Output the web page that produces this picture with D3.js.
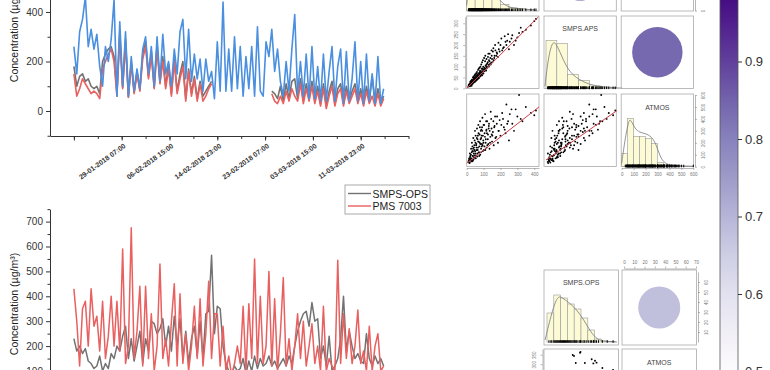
<!DOCTYPE html>
<html>
<head>
<meta charset="utf-8">
<script src="https://cdn.jsdelivr.net/npm/d3@7"></script>
<style>
  body { margin: 0; background: #fff; }
  svg { display: block; font-family: "Liberation Sans", Arial, sans-serif; }
</style>
</head>
<body>
<svg id="chart" width="770" height="370"></svg>
<script>
// ---- time series data (12 h steps from the first sample) ----
const seriesStart = '20-01-2018 23:00';
const stepHours = 12;
const xTickLabels = ['29-01-2018 07:00', '06-02-2018 15:00', '14-02-2018 23:00',
  '23-02-2018 07:00', '03-03-2018 15:00', '11-03-2018 23:00'];

const topAps = [260,150,320,370,460,260,330,250,310,180,
  100,260,200,290,450,60,360,100,320,60,
  220,80,170,90,250,300,150,260,100,300,
  120,310,150,200,100,250,150,320,370,130,
  330,120,230,130,210,80,210,120,160,50,
  280,80,440,80,250,80,300,90,260,60,
  220,90,260,60,340,80,60,280,220,330,
  160,250,120,60,200,80,250,390,70,200,
  60,230,50,260,50,180,40,230,40,160,
  260,40,180,250,30,240,40,130,280,40,
  200,30,230,40,150,30,220,30,90];
const topPms = [150,60,90,130,110,90,70,80,70,50,
  170,200,230,250,200,60,300,90,270,55,
  190,70,150,80,210,260,130,220,90,250,
  110,200,90,170,60,200,70,130,180,40,
  160,60,130,40,110,40,60,90,110,null,
  null,null,null,null,null,null,null,null,null,null,
  null,null,null,null,null,null,null,null,null,70,
  40,30,60,30,80,40,90,60,40,110,
  30,90,40,100,30,80,20,90,10,60,
  100,20,70,90,20,80,30,60,90,30,
  70,20,80,30,60,20,70,20,50];
const topOps = [180,100,140,150,120,130,100,90,100,70,
  200,230,250,260,220,70,320,95,290,58,
  200,75,160,85,230,280,140,240,95,270,
  115,220,100,190,70,210,80,150,200,50,
  170,70,140,50,120,60,80,100,120,null,
  null,null,null,null,null,null,null,null,null,null,
  null,null,null,null,null,null,null,null,null,80,
  70,50,100,40,110,50,120,130,50,130,
  40,110,50,120,40,100,30,110,20,80,
  120,30,90,110,30,100,40,80,110,40,
  90,30,100,40,140,30,90,30,60];

const bottomPms = [430,300,120,350,380,200,430,280,320,180,
  380,150,240,400,200,380,180,590,130,200,
  675,150,260,440,120,440,150,330,100,200,
  530,150,230,120,300,450,120,410,130,250,
  100,200,360,150,390,120,250,460,150,330,
  330,120,280,100,160,80,130,200,130,360,
  100,370,150,550,130,400,130,200,500,120,
  390,100,250,475,120,230,100,200,330,150,
  300,120,200,290,130,200,100,360,100,150,
  120,100,545,130,330,150,270,130,200,345,
  130,180,100,280,100,200,250,100,120];
const bottomOps = [230,180,200,170,190,140,130,110,120,160,
  100,130,110,170,150,200,180,240,280,150,
  230,140,200,260,130,230,180,300,290,250,
  270,310,200,280,180,320,200,310,150,260,
  130,230,280,160,300,150,330,340,565,250,
  360,350,200,130,100,90,120,100,110,150,
  90,140,100,160,110,150,120,130,160,120,
  140,110,130,150,120,160,130,200,260,300,
  330,340,280,375,300,310,150,200,120,240,
  100,120,150,230,400,180,260,200,150,170,
  140,130,250,150,120,160,130,150,120];

const legendLabels = ['SMPS-OPS', 'PMS 7003'];

// ---- scatter matrix samples (top matrix) ----
const pmsSample = [10,15,18,20,22,25,28,30,32,35,38,40,42,45,48,50,52,55,58,60,
  62,65,68,70,72,75,78,80,82,85,88,90,92,95,98,100,105,108,110,112,
  115,118,120,125,128,130,135,140,145,150,155,160,165,170,180,185,190,200,210,220,
  230,240,250,265,280,300,310,330,350,380,400,410,
  12,16,24,27,33,36,44,46,54,57,63,66,74,77,84,87,94,102,116,122,132,138,148,175,
  14,19,21,26,29,31,34,37,39,41,43,47,49,51,53,56,59,61,64,67,
  69,71,73,76,79,81,83,86,89,91,93,96,99,103,106,109,113,117,121,126,
  131,136,142,147,152,158,163,168,178,188,195,205,215,225,235,245,255,270,290,320];
const apsSample = [8,12,20,15,25,18,30,22,35,28,40,30,45,38,50,42,55,35,60,48,
  52,65,45,58,70,62,80,55,75,68,90,72,60,85,100,78,95,88,150,105,
  82,110,98,120,160,108,125,140,118,135,170,130,150,175,160,145,180,200,175,190,
  215,220,180,230,200,235,255,260,270,290,310,320,
  14,10,22,15,26,32,36,48,44,50,58,52,66,72,80,64,92,88,100,115,130,112,150,150,
  18,9,30,35,12,40,20,50,25,55,28,60,30,65,40,70,38,75,42,85,
  50,90,48,95,60,100,58,110,70,120,75,130,68,140,80,125,90,135,95,145,
  100,160,110,175,120,185,140,200,165,210,170,230,185,240,200,250,215,245,220,280];
const atmosSample = [40,60,35,80,55,100,70,120,45,90,150,60,110,180,75,130,200,95,160,240,
  85,140,210,280,120,170,330,100,230,150,260,190,300,130,220,350,170,250,140,200,
  380,160,280,230,190,320,150,250,400,210,290,180,340,240,420,200,300,260,450,330,
  280,360,220,480,300,420,600,380,500,450,430,470,
  50,30,65,45,130,50,95,140,70,190,110,260,90,200,120,310,180,140,300,180,360,200,270,250,
  70,110,90,150,60,200,170,130,240,80,160,220,300,110,260,180,140,320,230,160,
  350,210,120,270,380,190,300,240,170,330,410,260,200,350,280,440,230,310,380,270,
  340,300,460,320,260,380,330,420,360,300,390,350,400,310,520,380,440,360,480,400];

// histogram bins (edges + heights) and density curves
const pmsHistEdges = [0,50,100,150,200,250,300,350,400];
const pmsHistHeights = [40,46,35,22,6,2.5,1.5,0.8];
const pmsDensX = [0,20,60,100,150,200,250,300,400];
const pmsDensY = [5,35,46,38,22,8,3,1.5,0.5];

const apsHistEdges = [0,50,100,150,200,250,300,350];
const apsHistHeights = [48,45,14,8,2.3,1,0.5];
const apsDensX = [-5,10,30,50,80,110,150,200,260,330];
const apsDensY = [2,30,48,44,28,16,9,3.5,1.5,0.5];

const atmosHistEdges = [0,50,100,150,200,250,300,350,400,450,500,550,600];
const atmosHistHeights = [13,48,30,30,28,23,4,1.5,0.8,0.5,0.3,0.3];
const atmosDensX = [0,25,60,80,110,150,200,250,290,320,360,420,500,600];
const atmosDensY = [3,25,48,46,38,34,33,30,22,10,3,1,0.5,0.2];

const fitPmsAps = [[0, 0], [425, 330]];
const fitPmsAtmos = [[0, 29], [428, 500]];
const fitApsAtmos = [[0, 56], [328, 470]];

const corrTop = [0.86, 0.75, 0.84]; // r(1,2), r(1,3), r(2,3)
const corrBottom = [0.68];

// ---- bottom matrix samples ----
const opsSampleB = [26.5,34,29.6,39,46,49.4,51,47.7,27.8,34.5,2,4,5,7,8,9,10,11,12,13,
  14,15,16,17,18,19,20,21,22,23,24,25,28,30,31,33,36,38,41,43,45,48,53,57,62,68];
const atmosSampleB = [348,360,306,306,326,318,308,304,343,364,40,60,50,80,70,90,100,85,110,95,
  120,130,105,140,150,125,160,145,170,155,180,190,200,175,210,220,230,215,240,225,250,260,240,280,230,270];
const opsHistEdges = [0,7,14,21,28,35,42,49,56,63,70];
const opsHistHeights = [29,47,44,38,33,24,12,3,1,0.5];
const opsDensX = [-2,5,11,16,22,30,38,45,52,60,72];
const opsDensY = [2,30,47,44,40,33,22,10,2,0.6,0];

const colorbarTicks = [0.5, 0.6, 0.7, 0.8, 0.9, 1.0];

// ================= drawing =================
const svg = d3.select('#chart');
const defs = svg.append('defs');
const parseTime = d3.timeParse('%d-%m-%Y %H:%M');
const t0 = parseTime(seriesStart);
const times = topAps.map((_, i) => d3.timeHour.offset(t0, i * stepHours));

const x = d3.scaleTime()
  .domain([d3.timeHour.offset(t0, -100), d3.timeHour.offset(t0, 1400)])
  .range([50, 408.5]);
const yTop = d3.scaleLinear().domain([-100, 500]).range([135.75, -12.75]);
const yBot = d3.scaleLinear().domain([0, 750]).range([395.9, 209.15]);

const colors = { aps: '#4a8fe0', pms: '#e8605f', ops: '#727272' };

defs.append('clipPath').attr('id', 'clipTop')
  .append('rect').attr('x', 50).attr('y', -30).attr('width', 360).attr('height', 166);
defs.append('clipPath').attr('id', 'clipBot')
  .append('rect').attr('x', 50).attr('y', 200).attr('width', 360).attr('height', 200);

function seriesLine(yScale) {
  return d3.line()
    .defined(d => d.v != null)
    .x(d => x(d.t))
    .y(d => yScale(d.v));
}
function toPoints(arr) { return arr.map((v, i) => ({ t: times[i], v })); }

// ---- top time series ----
const gTop = svg.append('g');
const topLines = gTop.append('g').attr('clip-path', 'url(#clipTop)');
[[topOps, colors.ops], [topPms, colors.pms], [topAps, colors.aps]].forEach(([arr, c]) => {
  topLines.append('path')
    .attr('d', seriesLine(yTop)(toPoints(arr)))
    .attr('fill', 'none').attr('stroke', c).attr('stroke-width', 1.6)
    .attr('stroke-linejoin', 'round');
});

function styleAxis(g) {
  g.selectAll('path, line').attr('stroke', '#333');
  g.selectAll('text').attr('fill', '#333').attr('font-size', 10);
}

gTop.append('g').attr('transform', 'translate(50,0)')
  .call(d3.axisLeft(yTop).tickValues([0, 200, 400]).tickSize(4).tickSizeOuter(0).tickPadding(3))
  .call(styleAxis);
gTop.append('g').attr('transform', 'translate(50,0)')
  .call(d3.axisLeft(yTop).tickValues([-100, 100, 300]).tickSize(2.5).tickFormat(''))
  .call(g => g.select('.domain').remove()).call(styleAxis);

const minorTimes = d3.range(0, 15).map(k => d3.timeHour.offset(t0, k * 100));
const majorTimes = [t0, ...xTickLabels.map(parseTime)];
gTop.append('g').attr('transform', 'translate(0,136)')
  .call(d3.axisBottom(x).tickValues(minorTimes).tickSize(3).tickSizeOuter(0).tickFormat(''))
  .call(styleAxis);
gTop.append('g').attr('transform', 'translate(0,136)')
  .call(d3.axisBottom(x).tickValues(majorTimes).tickSize(4.5).tickFormat(''))
  .call(g => g.select('.domain').remove()).call(styleAxis);
gTop.selectAll('text.xlab').data(xTickLabels).join('text')
  .attr('class', 'xlab')
  .attr('transform', d => `translate(${x(parseTime(d)) + 4.5},${147}) rotate(-36)`)
  .attr('text-anchor', 'end')
  .attr('font-size', 7).attr('font-weight', 'bold').attr('fill', '#333')
  .text(d => d);

gTop.append('text')
  .attr('transform', 'translate(18,31) rotate(-90)')
  .attr('text-anchor', 'middle').attr('font-size', 10.5).attr('fill', '#222')
  .text('Concentration (µg/m³)');

// ---- bottom time series ----
const gBot = svg.append('g');
const botLines = gBot.append('g').attr('clip-path', 'url(#clipBot)');
[[bottomOps, colors.ops], [bottomPms, colors.pms]].forEach(([arr, c]) => {
  botLines.append('path')
    .attr('d', seriesLine(yBot)(toPoints(arr)))
    .attr('fill', 'none').attr('stroke', c).attr('stroke-width', 1.5)
    .attr('stroke-linejoin', 'round');
});
gBot.append('g').attr('transform', 'translate(50,0)')
  .call(d3.axisLeft(yBot).tickValues([100, 200, 300, 400, 500, 600, 700]).tickSize(4).tickSizeOuter(0).tickPadding(3))
  .call(styleAxis);
gBot.append('g').attr('transform', 'translate(50,0)')
  .call(d3.axisLeft(yBot).tickValues([150, 250, 350, 450, 550, 650, 750]).tickSize(2.5).tickFormat(''))
  .call(g => g.select('.domain').remove()).call(styleAxis);
gBot.append('text')
  .attr('transform', 'translate(18,304) rotate(-90)')
  .attr('text-anchor', 'middle').attr('font-size', 10.5).attr('fill', '#222')
  .text('Concentration (µg/m³)');

// legend
const leg = svg.append('g').attr('transform', 'translate(345,185)');
leg.append('rect').attr('width', 85).attr('height', 29).attr('fill', '#fff').attr('stroke', '#aaa');
legendLabels.forEach((lab, i) => {
  const c = i === 0 ? colors.ops : colors.pms;
  leg.append('line').attr('x1', 3).attr('x2', 26).attr('y1', 8.5 + i * 12.5).attr('y2', 8.5 + i * 12.5)
    .attr('stroke', c).attr('stroke-width', 1.4);
  leg.append('text').attr('x', 27.5).attr('y', 12.5 + i * 12.5).attr('font-size', 10.5).attr('fill', '#222').text(lab);
});

// ================= scatter matrices =================
const purples = v => d3.interpolatePurples((v - 0.5) / 0.5);

function panel(g, x0, y0, w, h) {
  g.append('rect').attr('x', x0).attr('y', y0).attr('width', w).attr('height', h)
    .attr('fill', '#fff').attr('stroke', '#aaa').attr('stroke-width', 0.8);
}
function scatter(g, xs, ys, sx, sy) {
  g.append('g').selectAll('circle').data(d3.range(xs.length)).join('circle')
    .attr('cx', i => sx(xs[i])).attr('cy', i => sy(ys[i])).attr('r', 0.95).attr('fill', '#000');
}
function fitLine(g, pts, sx, sy) {
  g.append('line').attr('x1', sx(pts[0][0])).attr('y1', sy(pts[0][1]))
    .attr('x2', sx(pts[1][0])).attr('y2', sy(pts[1][1]))
    .attr('stroke', '#d0404a').attr('stroke-width', 1);
}
function hist(g, edges, heights, densX, densY, rug, sx, base) {
  const hy = d3.scaleLinear().domain([0, 1]).range([base, base - 1]);
  g.append('g').selectAll('rect').data(heights).join('rect')
    .attr('x', (d, i) => sx(edges[i])).attr('width', (d, i) => sx(edges[i + 1]) - sx(edges[i]))
    .attr('y', d => hy(d)).attr('height', d => base - hy(d))
    .attr('fill', '#fdfbd6').attr('stroke', '#999').attr('stroke-width', 0.6);
  g.append('path')
    .attr('d', d3.line().curve(d3.curveBasis).x((d, i) => sx(densX[i])).y(d => hy(d))(densY))
    .attr('fill', 'none').attr('stroke', '#777').attr('stroke-width', 0.8);
  g.append('g').selectAll('line').data(rug).join('line')
    .attr('x1', d => sx(d)).attr('x2', d => sx(d)).attr('y1', base - 1.8).attr('y2', base + 0.8)
    .attr('stroke', '#000').attr('stroke-width', 1);
}
function corrCircle(g, cx, cy, r, half) {
  g.append('circle').attr('cx', cx).attr('cy', cy).attr('r', r * half * 0.83).attr('fill', purples(r));
}
function tinyAxis(g, axis, tx, ty, rotate) {
  const a = g.append('g').attr('transform', `translate(${tx},${ty})`).call(axis);
  a.selectAll('path, line').attr('stroke', '#888').attr('stroke-width', 0.6);
  a.selectAll('text').attr('font-size', 4.5).attr('fill', '#777');
  if (rotate) a.selectAll('text').attr('text-anchor', 'middle')
    .attr('dy', rotate === 'left' ? -2 : 5).attr('x', 0).attr('y', 0)
    .attr('transform', () => `translate(${rotate === 'left' ? -5 : 5},0) rotate(-90)`);
}

// top matrix geometry
const mx = [466.7, 544, 621.2], my = [-61.5, 16, 94], pw = 72.3, ph = 72.5;
const pmsX = d3.scaleLinear().domain([0, 428]).range([466.7, 539]);
const apsX = d3.scaleLinear().domain([0, 328]).range([546, 617]);
const atmosX = d3.scaleLinear().domain([0, 600]).range([621.7, 693.3]);
const pmsY = d3.scaleLinear().domain([0, 428]).range([10.5, -61.5]);
const apsY = d3.scaleLinear().domain([0, 330]).range([88.3, 16.8]);
const atmosY = d3.scaleLinear().domain([0, 600]).range([166.7, 95]);

const gM = svg.append('g');
mx.forEach(x0 => my.forEach(y0 => panel(gM, x0, y0, pw, ph)));
hist(gM, pmsHistEdges, pmsHistHeights, pmsDensX, pmsDensY, pmsSample, pmsX, 10.3);
hist(gM, apsHistEdges, apsHistHeights, apsDensX, apsDensY, apsSample, apsX, 88.3);
hist(gM, atmosHistEdges, atmosHistHeights, atmosDensX, atmosDensY, atmosSample, atmosX, 166.5);
scatter(gM, pmsSample, apsSample, pmsX, apsY);
fitLine(gM, fitPmsAps, pmsX, apsY);
scatter(gM, pmsSample, atmosSample, pmsX, atmosY);
fitLine(gM, fitPmsAtmos, pmsX, atmosY);
scatter(gM, apsSample, atmosSample, apsX, atmosY);
fitLine(gM, fitApsAtmos, apsX, atmosY);
corrCircle(gM, mx[1] + pw / 2, my[0] + ph / 2, corrTop[0], pw / 2);
corrCircle(gM, mx[2] + pw / 2, my[0] + ph / 2, corrTop[1], pw / 2);
corrCircle(gM, mx[2] + pw / 2, my[1] + ph / 2, corrTop[2], pw / 2);
gM.append('text').attr('x', mx[1] + pw / 2).attr('y', 31).attr('text-anchor', 'middle')
  .attr('font-size', 7).attr('fill', '#444').text('SMPS.APS');
gM.append('text').attr('x', mx[2] + pw / 2).attr('y', 109.5).attr('text-anchor', 'middle')
  .attr('font-size', 7).attr('fill', '#444').text('ATMOS');

tinyAxis(gM, d3.axisBottom(pmsX).tickValues([0, 100, 200, 300, 400]).tickSize(2).tickSizeOuter(0), 0, my[2] + ph + 1.5);
tinyAxis(gM, d3.axisBottom(atmosX).tickValues([0, 100, 200, 300, 400, 500, 600]).tickSize(2).tickSizeOuter(0), 0, my[2] + ph + 1.5);
tinyAxis(gM, d3.axisLeft(apsY).tickValues([0, 50, 100, 150, 200, 250, 300]).tickSize(2).tickSizeOuter(0), mx[0] - 1.5, 0, 'left');
tinyAxis(gM, d3.axisRight(atmosY).tickValues([0, 100, 200, 300, 400, 500, 600]).tickSize(2).tickSizeOuter(0), mx[2] + pw + 1.5, 0, 'right');
tinyAxis(gM, d3.axisRight(pmsY).tickValues([0]).tickSize(2).tickSizeOuter(0), mx[2] + pw + 1.5, 0, 'right');

// bottom matrix
const bx = [544, 622], by = [270, 349], bw = 74.5, bh = 75;
const opsX = d3.scaleLinear().domain([0, 70]).range([547, 615]);
const topAxisX = d3.scaleLinear().domain([0, 70]).range([624, 696]);
const opsY = d3.scaleLinear().domain([0, 70]).range([342, 272]);
const atmosYB = d3.scaleLinear().domain([0, 380]).range([421, 349]);
const gB = svg.append('g');
bx.forEach(x0 => by.forEach(y0 => panel(gB, x0, y0, bw, bh)));
hist(gB, opsHistEdges, opsHistHeights, opsDensX, opsDensY, opsSampleB, opsX, 342);
scatter(gB, opsSampleB, atmosSampleB, opsX, atmosYB);
corrCircle(gB, bx[1] + bw / 2, by[0] + bh / 2, corrBottom[0], bw / 2);
gB.append('text').attr('x', bx[0] + bw / 2).attr('y', 285).attr('text-anchor', 'middle')
  .attr('font-size', 7).attr('fill', '#444').text('SMPS.OPS');
gB.append('text').attr('x', bx[1] + bw / 2).attr('y', 365).attr('text-anchor', 'middle')
  .attr('font-size', 7).attr('fill', '#444').text('ATMOS');
tinyAxis(gB, d3.axisTop(topAxisX).tickValues(d3.range(0, 80, 10)).tickSize(2).tickSizeOuter(0), 0, by[0] - 1.5);
tinyAxis(gB, d3.axisRight(opsY).tickValues([10, 20, 30, 40, 50, 60]).tickSize(2).tickSizeOuter(0), bx[1] + bw + 1.5, 0, 'right');
tinyAxis(gB, d3.axisLeft(atmosYB).tickValues([250, 300, 350]).tickSize(2).tickSizeOuter(0), bx[0] - 1.5, 0, 'left');

// ================= colour bar =================
const cb = d3.scaleLinear().domain([0.5, 1.0]).range([371.5, -16]);
const grad = defs.append('linearGradient').attr('id', 'cbGrad')
  .attr('x1', 0).attr('y1', 1).attr('x2', 0).attr('y2', 0);
d3.range(0, 1.001, 0.1).forEach(t => {
  grad.append('stop').attr('offset', t).attr('stop-color', purples(0.5 + t * 0.5));
});
svg.append('rect').attr('x', 720).attr('y', cb(1.0)).attr('width', 18).attr('height', cb(0.5) - cb(1.0))
  .attr('fill', 'url(#cbGrad)').attr('stroke', '#555').attr('stroke-width', 0.8);
svg.append('g').attr('transform', 'translate(738,0)')
  .call(d3.axisRight(cb).tickValues(colorbarTicks).tickSize(4).tickPadding(3).tickFormat(d3.format('.1f')))
  .call(g => g.select('.domain').remove())
  .call(g => {
    g.selectAll('line').attr('stroke', '#333');
    g.selectAll('text').attr('font-size', 13).attr('fill', '#333');
  });
</script>
</body>
</html>
